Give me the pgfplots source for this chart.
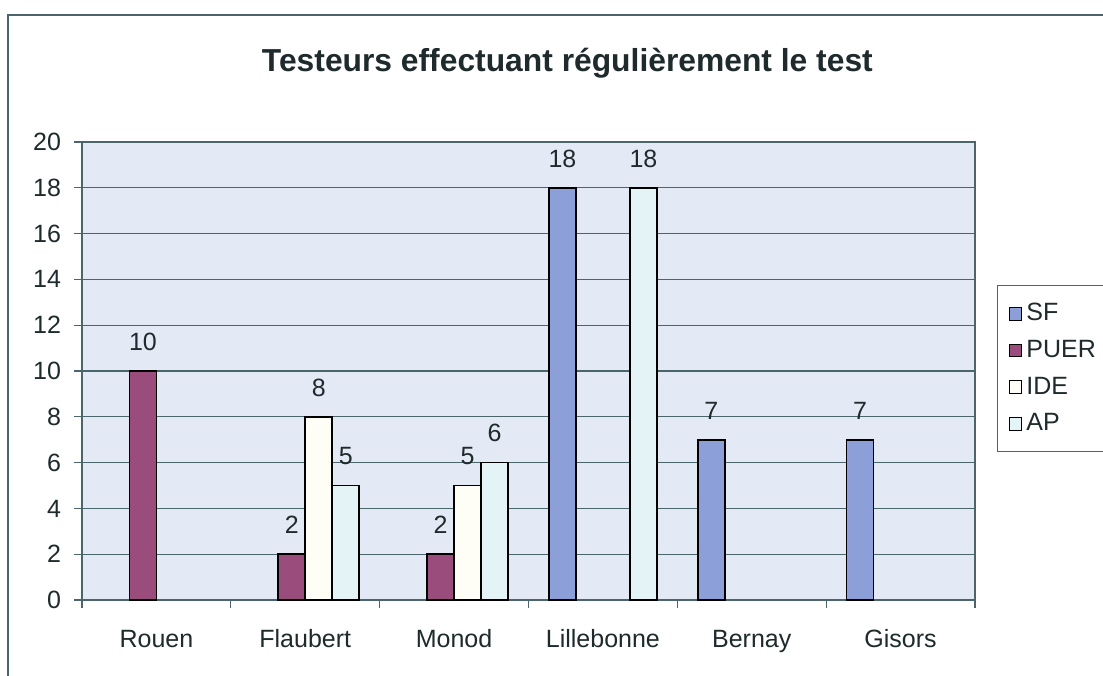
\documentclass[border=0pt]{standalone}
\usepackage{fontspec}
\setmainfont{Liberation Sans}
\usepackage{pgfplots}
\pgfplotsset{compat=1.18}
\definecolor{sfcol}{HTML}{8D9FD8}
\definecolor{puercol}{HTML}{9A4D7C}
\definecolor{idecol}{HTML}{FFFEF6}
\definecolor{apcol}{HTML}{E4F3F6}
\definecolor{bgcol}{HTML}{E4EAF5}
\definecolor{gridcol}{HTML}{4A666C}
\definecolor{txtcol}{HTML}{1E2A2C}
\begin{document}
\begin{tikzpicture}
\useasboundingbox (0,0) rectangle (551.5pt,337.5pt);
\clip (0,0) rectangle (551.5pt,337.5pt);
\fill[white] (0,0) rectangle (551.5pt,337.5pt);
\draw[gridcol, line width=0.6pt] (4pt,-5pt) rectangle (560pt,330pt);
\node[font=\bfseries\fontsize{15.9}{18}\selectfont, text=txtcol] at (283.7pt,306pt) {Testeurs effectuant régulièrement le test};
\begin{axis}[
  at={(41pt,37.5pt)}, anchor=south west,
  scale only axis, width=446.5pt, height=229pt,
  ybar=0pt, bar width=13.5pt,
  xmin=-0.5, xmax=5.5, ymin=0, ymax=20,
  xtick={0,1,2,3,4,5},
  xticklabels={Rouen,Flaubert,Monod,Lillebonne,Bernay,Gisors},
  major x tick style={draw=none},
  minor xtick={-0.5,0.5,1.5,2.5,3.5,4.5,5.5},
  minor x tick style={draw=gridcol, line width=0.6pt},
  minor tick length=4pt,
  ytick={0,2,...,20},
  major tick length=4pt,
  tick align=outside, xtick pos=bottom, ytick pos=left,
  y tick style={draw=gridcol, line width=0.6pt},
  ymajorgrids, major grid style={draw=gridcol, line width=0.6pt},
  axis line style={draw=gridcol, line width=0.6pt},
  axis background/.style={fill=bgcol},
  /pgf/number format/assume math mode=true,
  tick label style={font=\fontsize{12.5}{14}\selectfont, text=txtcol},
  xticklabel style={text height=9pt, text depth=0pt, yshift=-7pt},
  yticklabel style={xshift=-3pt},
  nodes near coords,
  every node near coord/.append style={font=\fontsize{12.5}{14}\selectfont, text=txtcol, anchor=south, yshift=6.5pt},
  legend image code/.code={\draw[#1, draw=black, line width=0.5pt] (0pt,-3.2pt) rectangle (6.4pt,3.2pt);},
  legend style={at={(rel axis cs:1.0246,0.688)}, anchor=north west,
    draw=gridcol, line width=0.6pt, fill=white,
    font=\fontsize{12.5}{14}\selectfont, text=txtcol,
    row sep=4.2pt, inner xsep=5.5pt, inner ysep=7pt},
  legend cell align=left,
]
\addplot[fill=sfcol, draw=black, line width=0.8pt] coordinates {(3,18) (4,7) (5,7)};
\addplot[fill=puercol, draw=black, line width=0.8pt] coordinates {(0,10) (1,2) (2,2)};
\addplot[fill=idecol, draw=black, line width=0.8pt] coordinates {(1,8) (2,5)};
\addplot[fill=apcol, draw=black, line width=0.8pt] coordinates {(1,5) (2,6) (3,18)};
\legend{SF,PUER,IDE,AP}
\end{axis}
\end{tikzpicture}
\end{document}
